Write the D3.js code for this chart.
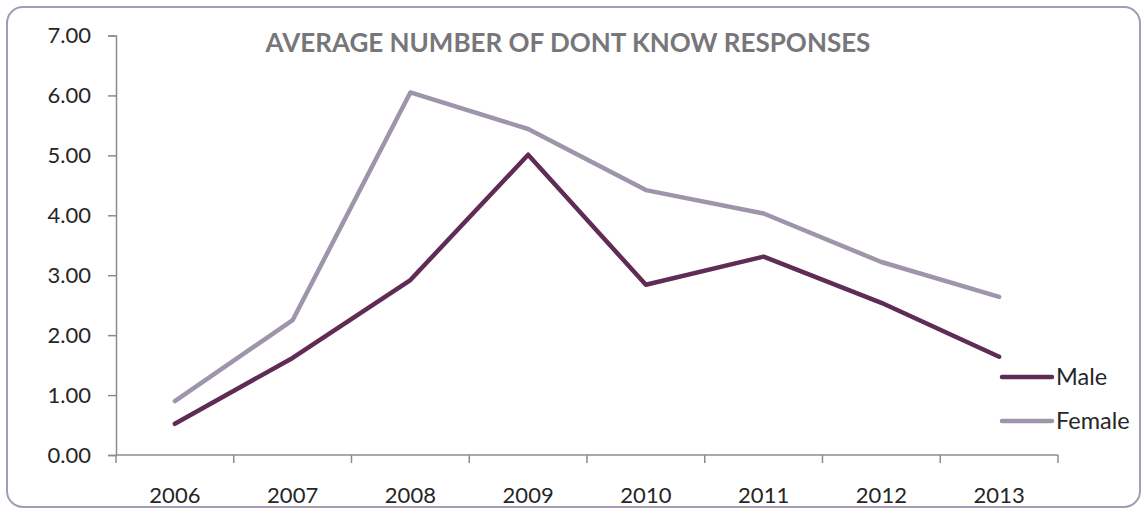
<!DOCTYPE html>
<html>
<head>
<meta charset="utf-8">
<script src="https://cdn.jsdelivr.net/npm/d3@7"></script>
<style>
  body { margin: 0; background: #fff; }
  svg { display: block; }
  text { font-family: Lato, "Noto Sans", sans-serif; }
</style>
</head>
<body>
<svg id="chart" width="1146" height="511"></svg>
<script>
// data
const years = ["2006", "2007", "2008", "2009", "2010", "2011", "2012", "2013"]
const male = [0.52, 1.62, 2.92, 5.01, 2.84, 3.31, 2.54, 1.64]
const female = [0.90, 2.25, 6.05, 5.44, 4.42, 4.03, 3.22, 2.64]
const yTicks = [0, 1, 2, 3, 4, 5, 6, 7]
const seriesNames = ["Male", "Female"]
const seriesColors = ["#5f2c55", "#9f95ab"]

let svg = d3.select("#chart")

// outer rounded frame
svg.append("rect")
    .attr("x", 7).attr("y", 7)
    .attr("width", 1133).attr("height", 500)
    .attr("rx", 16).attr("ry", 16)
    .attr("fill", "#fff")
    .attr("stroke", "#a59cb3")
    .attr("stroke-width", 2)

let x = d3.scaleBand().domain(years).range([116, 1058])
let y = d3.scaleLinear().domain([0, 7]).range([455, 35.5])

let axisColor = "#8c8c8c"

let yAxis = svg.append("g")
    .attr("transform", "translate(116,0)")
    .call(d3.axisLeft(y).tickValues(yTicks).tickFormat(d3.format(".2f")).tickSize(8).tickPadding(17))
let xAxis = svg.append("g")
    .attr("transform", "translate(0,455)")
    .call(d3.axisBottom(x).tickSize(0))

for (let ax of [yAxis, xAxis]) {
    ax.select(".domain").attr("stroke", axisColor).attr("stroke-width", 1.5)
    ax.selectAll(".tick line").attr("stroke", axisColor).attr("stroke-width", 1.5)
    ax.selectAll("text")
        .attr("fill", "#262626")
        .style("font-size", "22px")
}
xAxis.select(".domain").attr("d", "M116,0H1058")
xAxis.selectAll(".tick text").attr("y", 48).attr("dy", 0)

// category boundary ticks on the x axis
let bounds = years.map(d => x(d)).concat([x.range()[1]])
xAxis.selectAll(".bound")
    .data(bounds)
    .join("line")
        .attr("stroke", axisColor)
        .attr("stroke-width", 1.5)
        .attr("x1", d => d).attr("x2", d => d)
        .attr("y1", 0).attr("y2", 8)

let line = d3.line()
    .x((d, i) => x(years[i]) + x.bandwidth() / 2)
    .y(d => y(d))

let series = [male, female]
// draw female first so male sits on top
for (let k of [1, 0]) {
    svg.append("path")
        .datum(series[k])
        .attr("fill", "none")
        .attr("stroke", seriesColors[k])
        .attr("stroke-width", 4.5)
        .attr("stroke-linejoin", "round")
        .attr("stroke-linecap", "round")
        .attr("d", line)
}

// legend
let legend = svg.append("g")
    .selectAll("g")
    .data(seriesNames)
    .join("g")
        .attr("transform", (d, i) => `translate(1000,${377 + i 
* 44})`)
legend.append("line")
    .attr("x1", 2).attr("x2", 52)
    .attr("y1", 0).attr("y2", 0)
    .attr("stroke", (d, i) => seriesColors[i])
    .attr("stroke-width", 4.5)
    .attr("stroke-linecap", "round")
legend.append("text")
    .attr("x", 56)
    .attr("y", 0)
    .attr("dy", "0.35em")
    .attr("fill", "#262626")
    .style("font-size", "23.5px")
    .text(d => d)

svg.append("text")
    .attr("x", 568)
    .attr("y", 52)
    .attr("text-anchor", "middle")
    .attr("fill", "#77777b")
    .style("font-size", "26px")
    .style("font-weight", "bold")
    .text("AVERAGE NUMBER OF DONT KNOW RESPONSES")
</script>
</body>
</html>
